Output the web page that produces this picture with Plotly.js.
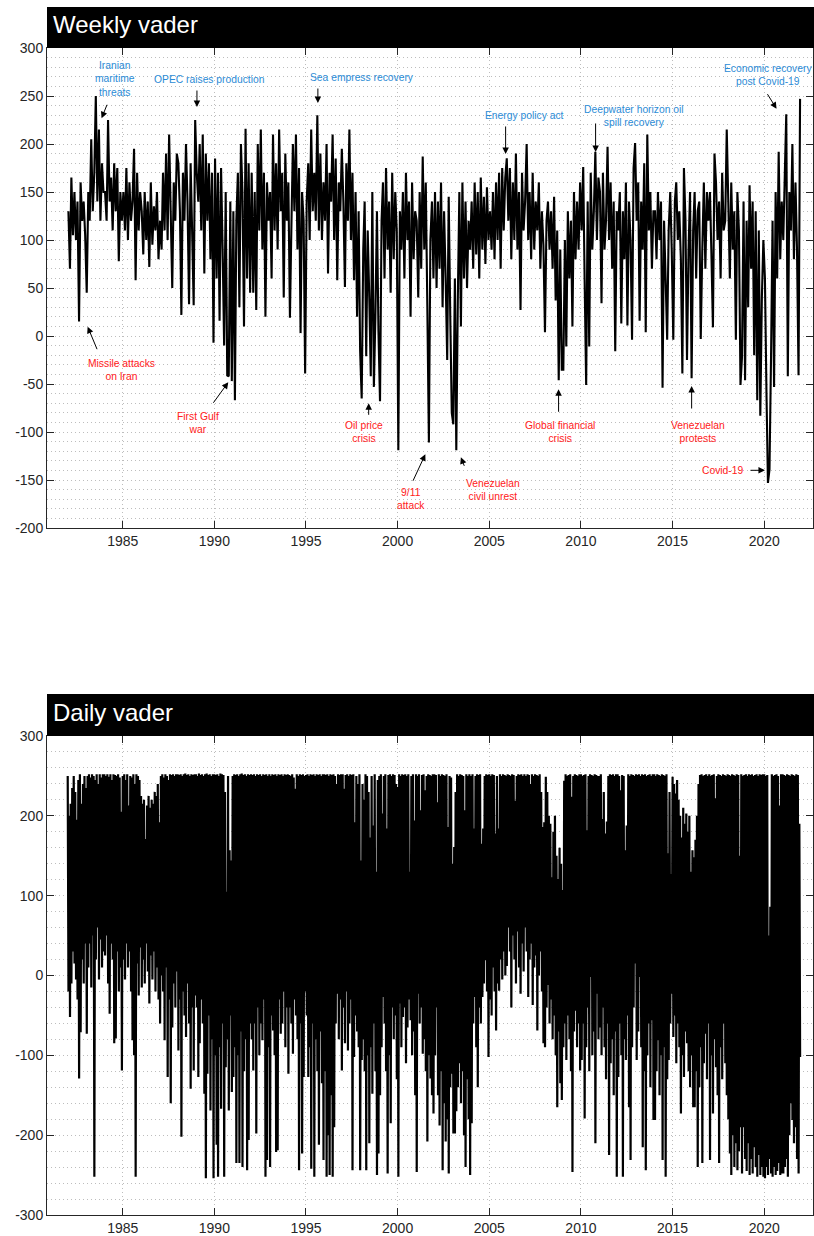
<!DOCTYPE html>
<html>
<head>
<meta charset="utf-8">
<script src="https://cdn.plot.ly/plotly-3.0.1.min.js"></script>
<style>
  html, body { margin: 0; padding: 0; background: #ffffff; }
  #chart { width: 814px; height: 1236px; }
</style>
</head>
<body>
<div id="chart"></div>
<script>
// Sentiment series start in January 1982, one row per year (Jan..Dec).
const START_YEAR = 1982;

// Weekly VADER sentiment index, sampled once per month.
const weeklyVader = [
  130, 70, 165, 105, 150, 100, 140, 15, 160, 120, 140, 105,
  45, 150, 120, 205, 130, 170, 250, 140, 215, 120, 180, 150,
  150, 120, 225, 140, 165, 110, 180, 130, 175, 78, 150, 120,
  150, 110, 175, 100, 160, 120, 140, 195, 58, 170, 110, 150,
  130, 85, 150, 100, 140, 72, 160, 95, 135, 110, 150, 80,
  120, 90, 170, 110, 190, 100, 210, 130, 50, 160, 120, 190,
  180, 130, 22, 170, 120, 200, 140, 33, 180, 110, 32, 225,
  170, 140, 200, 110, 210, 65, 190, 120, 180, 80, 170, -7,
  185, 60, 170, 16, 175, 90, -10, 150, -41, -42, 140, -47,
  130, -67, 120, 170, 30, 200, 150, 10, 216, 60, 180, 45,
  170, 45, 150, 27, 200, 110, 215, 90, 170, 20, 160, 120,
  150, 60, 210, 110, 180, 90, 215, 130, 170, 40, 190, 120,
  160, 19, 110, 200, 130, 210, 90, 175, 3, 150, 120, -39,
  140, 180, 100, 215, 130, 170, 120, 230, 110, 190, 100, 160,
  120, 200, 65, 170, 140, 210, 100, 185, 58, 160, 130, 195,
  140, 51, 180, 120, 215, 100, 170, 58, 150, 20, 130, -15,
  -65, 90, 140, -21, 110, 40, -42, 150, -53, 20, 130, 5,
  -68, 120, 160, 60, 175, 90, 140, 45, 170, 80, 150, 110,
  -119, 130, 90, 150, 60, 170, 100, 140, 20, 160, 80, 130,
  120, 40, 150, 70, 187, 90, 160, 30, -111, 100, 140, 60,
  150, 50, 140, 70, 160, 30, 130, 60, -25, 145, 20, -80,
  -92, 60, -119, 40, 150, 10, 160, 60, 140, 50, 120, 90,
  140, 70, 160, 85, 150, 60, 165, 90, 145, 75, 155, 100,
  130, 90, 150, 80, 160, 100, 170, 70, 175, 110, 165, 185,
  120, 175, 80, 160, 100, 190, 90, 150, 27, 170, 110, 140,
  200, 100, 150, 80, 170, 90, 140, 110, 160, 70, 130, 95,
  4, 120, 140, 90, 130, 70, 145, 37, 110, -46, 90, -35,
  -35, 100, -11, 130, 60, 120, 10, 150, 80, 140, 90, 160,
  110, 176, 60, -51, 140, -11, 170, 90, 130, 192, 100, 165,
  150, 34, 170, 90, 120, 197, 100, 160, 70, 140, -16, 130,
  110, 150, 13, 130, 80, 160, 11, 140, 100, -4, 175, 201,
  120, 160, 16, 140, 90, 180, 4, 210, 110, 150, 70, 130,
  130, 80, 150, 100, 140, -54, 120, 60, -4, 110, 150, 90,
  -4, 140, 160, 100, 130, 80, -39, 175, 120, -25, 90, 150,
  -44, 110, 150, 60, 130, 140, -3, 90, 160, 70, 150, 120,
  150, 80, 9, 190, 160, 100, 140, 60, 170, 110, 120, 215,
  140, 60, 160, 90, 130, -4, 150, 110, -51, -22, 140, -46,
  120, 30, 157, 70, 140, -20, 130, -67, 110, -83, 40, 100,
  60, -60, -153, -139, -25, 120, -53, 150, 60, 192, 80, 140,
  100, 170, 231, -42, 150, 110, 200, 80, 160, 90, -41, 247
];

// Daily VADER sentiment: highest and lowest daily reading in each month.
const dailyHigh = [
  250, 200, 215, 235, 250, 230, 195, 245, 252, 215, 240, 250,
  235, 250, 252, 248, 252, 250, 245, 252, 240, 252, 248, 252,
  252, 250, 252, 249, 252, 245, 252, 251, 250, 252, 248, 205,
  250, 252, 245, 252, 213, 250, 248, 252, 240, 252, 250, 245,
  225, 215, 220, 171, 213, 225, 210, 220, 215, 230, 225, 240,
  192, 250, 252, 248, 252, 250, 245, 252, 251, 252, 250, 252,
  252, 251, 252, 250, 252, 253, 251, 252, 250, 252, 251, 252,
  252, 250, 253, 251, 252, 250, 252, 253, 251, 252, 250, 252,
  252, 251, 252, 250, 253, 252, 251, 230, 105, 250, 157, 144,
  250, 252, 251, 252, 250, 252, 253, 251, 252, 250, 252, 251,
  252, 251, 252, 250, 252, 251, 252, 250, 252, 251, 252, 250,
  252, 250, 252, 251, 252, 250, 252, 251, 252, 250, 252, 251,
  252, 251, 250, 252, 248, 234, 252, 250, 252, 251, 252, 250,
  251, 252, 250, 252, 251, 252, 250, 252, 251, 252, 250, 252,
  252, 251, 252, 250, 252, 251, 252, 250, 240, 252, 251, 252,
  252, 234, 251, 252, 250, 252, 251, 252, 192, 250, 240, 252,
  144, 240, 220, 252, 250, 230, 173, 250, 188, 252, 130, 245,
  250, 252, 203, 250, 252, 184, 251, 252, 250, 252, 251, 240,
  236, 252, 250, 252, 251, 252, 250, 252, 130, 250, 252, 194,
  252, 250, 252, 207, 251, 252, 232, 250, 252, 251, 250, 252,
  252, 251, 217, 252, 250, 252, 251, 250, 252, 186, 250, 248,
  140, 161, 230, 252, 250, 252, 251, 250, 207, 252, 250, 252,
  250, 252, 184, 250, 252, 251, 252, 165, 184, 250, 252, 251,
  252, 250, 252, 251, 178, 250, 184, 252, 250, 252, 251, 250,
  252, 251, 250, 252, 251, 219, 250, 252, 251, 252, 250, 252,
  250, 252, 251, 240, 252, 250, 252, 251, 250, 252, 230, 186,
  192, 249, 230, 200, 190, 123, 180, 200, 150, 121, 160, 140,
  107, 244, 252, 250, 251, 252, 224, 250, 252, 251, 250, 252,
  252, 250, 251, 252, 182, 250, 252, 251, 250, 252, 251, 250,
  250, 252, 196, 230, 178, 193, 250, 252, 251, 252, 250, 252,
  252, 250, 232, 251, 250, 157, 188, 252, 250, 252, 251, 250,
  252, 251, 252, 250, 252, 251, 252, 250, 251, 252, 250, 252,
  252, 250, 252, 251, 250, 252, 251, 250, 252, 153, 230, 127,
  249, 240, 228, 245, 220, 200, 173, 210, 190, 203, 180, 200,
  130, 157, 148, 170, 200, 240, 251, 252, 250, 251, 252, 250,
  252, 250, 251, 252, 222, 250, 252, 251, 250, 252, 251, 250,
  252, 251, 250, 252, 251, 250, 252, 251, 150, 252, 250, 251,
  252, 250, 252, 251, 252, 250, 251, 252, 250, 252, 251, 252,
  252, 250, 251, 50, 86, 252, 250, 251, 252, 250, 213, 252,
  252, 251, 250, 252, 251, 250, 252, 251, 250, 252, 251, 190
];

const dailyLow = [
  -20, -52, -10, 30, 15, -5, -30, -129, -71, 20, -10, 40,
  -73, 10, 40, -15, 50, -252, 20, 60, -5, 45, 10, 30,
  25, 50, -10, -48, 40, 20, -85, -79, 30, -20, 10, -119,
  20, -5, 40, 10, 30, -20, -81, -100, -252, 15, -25, 35,
  -15, 20, -10, 40, 5, -35, 25, -5, 30, -20, 10, -30,
  -60, 0, -20, -81, 10, -127, -30, -160, -65, -10, -40, 5,
  -94, -30, -202, -20, -50, -77, -10, -60, -142, -40, -119, -25,
  -40, -127, -85, -30, -60, -148, -254, -123, -50, -169, -80, -254,
  -100, -212, -252, -90, -167, -60, -252, -115, -80, -169, -50, -146,
  -127, -90, -235, -100, -235, -70, -240, -120, -80, -244, -206, -60,
  -80, -119, -60, -198, -40, -100, -60, -81, -30, -252, -231, -90,
  -240, -50, -69, -100, -221, -219, -30, -73, -60, -20, -90, -40,
  -123, -40, -60, -98, -30, -50, -80, -244, -60, -223, -127, -20,
  -50, -127, -90, -242, -60, -252, -80, -120, -212, -70, -135, -231,
  -120, -252, -200, -250, -150, -252, -190, -60, -23, -80, -30, -119,
  -40, -85, -20, -94, -60, -30, -244, -102, -50, -70, -90, -244,
  -106, -80, -120, -244, -100, -210, -90, -148, -60, -120, -250, -223,
  -150, -90, -27, -60, -120, -248, -100, -185, -40, -80, -50, -130,
  -252, -35, -90, -52, -40, -110, -65, -30, -56, -100, -70, -150,
  -246, -23, -60, -40, -98, -80, -120, -208, -100, -129, -150, -173,
  -100, -40, -150, -188, -120, -244, -160, -208, -180, -248, -140, -123,
  -198, -198, -170, -140, -110, -160, -120, -200, -240, -130, -180, -250,
  -185, -60, -27, -90, -140, -40, -60, -27, -10, 19, -20, -102,
  -30, -50, 10, -20, -69, -10, -19, 20, -5, 30, 0, 12,
  60, 30, -40, 50, 20, -10, 55, 10, -23, 40, 5, 60,
  30, -27, 20, 40, -37, 10, 25, -69, 0, 30, -20, -85,
  -90, -40, -12, -60, -30, -80, -50, -100, -165, -70, -135, -156,
  -90, -60, -106, -50, -80, -120, -246, -70, -44, -90, -60, -119,
  -106, -60, -179, -90, -40, -120, -2, -100, -70, -210, -23, -80,
  -65, -100, -40, -90, -130, -60, -225, -110, -80, -150, -70, -252,
  -127, -60, -100, -252, -80, -106, -50, -165, -231, -90, -40, 15,
  -106, -70, -2, -90, -215, -120, -244, -100, -60, -140, -56, -181,
  -181, -120, -81, -150, -100, -231, -90, -252, -130, -106, -60, -23,
  -77, -50, -110, -60, -90, -173, -100, -127, -70, -85, -120, -140,
  -100, -165, -165, -120, -240, -140, -90, -235, -110, -73, -130, -60,
  -231, -100, -173, -80, -115, -150, -235, -90, -130, -60, -110, -150,
  -180, -223, -250, -200, -240, -210, -244, -220, -190, -248, -190, -230,
  -245, -210, -250, -230, -248, -215, -240, -252, -225, -250, -240, -252,
  -254, -240, -250, -230, -248, -252, -240, -250, -245, -235, -250, -248,
  -248, -240, -230, -252, -200, -160, -181, -210, -190, -230, -248, -102
];

// Axis ticks
const yearTicks = [1985, 1990, 1995, 2000, 2005, 2010, 2015, 2020];
const weeklyYTicks = [-200, -150, -100, -50, 0, 50, 100, 150, 200, 250, 300];
const dailyYTicks = [-300, -200, -100, 0, 100, 200, 300];

// Event labels on the weekly panel
const positiveEvents = [
  'Iranian<br>maritime<br>threats',
  'OPEC raises production',
  'Sea empress recovery',
  'Energy policy act',
  'Deepwater horizon oil<br>spill recovery',
  'Economic recovery<br>post Covid-19'
];
const negativeEvents = [
  'Missile attacks<br>on Iran',
  'First Gulf<br>war',
  'Oil price<br>crisis',
  '9/11<br>attack',
  'Venezuelan<br>civil unrest',
  'Global financial<br>crisis',
  'Venezuelan<br>protests',
  'Covid-19'
];

// ---------- helpers ----------
const W = 814, H = 1236;
const pad2 = n => String(n).padStart(2, '0');
function monthDate(i, day) {
  const y = START_YEAR + Math.floor(i / 12);
  return y + '-' + pad2(i % 12 + 1) + '-' + pad2(day);
}
function yearToDate(t) {
  const y = Math.floor(t);
  const a = Date.UTC(y, 0, 1), b = Date.UTC(y + 1, 0, 1);
  return new Date(a + (t - y) * (b - a)).toISOString().replace('T', ' ').slice(0, 19);
}
const py = p => 1 - p / H; // pixel row -> paper fraction

// ---------- traces ----------
const weeklyX = weeklyVader.map((_, i) => monthDate(i, 15));

const dailyX = [], dailyY = [];
dailyHigh.forEach((hi, i) => {
  dailyX.push(monthDate(i, 1));  dailyY.push(hi);
  dailyX.push(monthDate(i, 16)); dailyY.push(dailyLow[i]);
});

const traces = [
  { type: 'scatter', mode: 'lines', x: weeklyX, y: weeklyVader, xaxis: 'x', yaxis: 'y',
    line: { color: '#000000', width: 2.1, simplify: false }, hoverinfo: 'skip' },
  { type: 'scatter', mode: 'lines', x: dailyX, y: dailyY, xaxis: 'x2', yaxis: 'y2',
    line: { color: '#000000', width: 2.2, simplify: false }, hoverinfo: 'skip' }
];

// ---------- axes ----------
const ink = '#262626';
const grid = '#bdbdbd';
const tickFont = { family: 'Liberation Sans, Arial, sans-serif', size: 14, color: ink };

function xAxis(anchor) {
  return {
    anchor: anchor, domain: [0, 1], type: 'date',
    range: [yearToDate(1980.87), yearToDate(2022.66)],
    tickmode: 'array',
    tickvals: yearTicks.map(y => y + '-01-01'),
    ticktext: yearTicks.map(String),
    ticks: 'inside', ticklen: 7, tickcolor: ink, tickwidth: 1,
    showline: true, linecolor: ink, linewidth: 1, mirror: 'allticks',
    showgrid: true, gridcolor: grid, griddash: '1px,3px', gridwidth: 1,
    zeroline: false, tickfont: tickFont, fixedrange: true
  };
}
function yAxis(anchor, domain, range, ticks, minorStep) {
  return {
    anchor: anchor, domain: domain, range: range,
    tickmode: 'array', tickvals: ticks, ticktext: ticks.map(String),
    ticks: 'inside', ticklen: 7, tickcolor: ink, tickwidth: 1,
    showline: true, linecolor: ink, linewidth: 1, mirror: 'allticks',
    showgrid: true, gridcolor: grid, griddash: '1px,3px', gridwidth: 1,
    minor: { tick0: 0, dtick: minorStep, showgrid: true, gridcolor: grid,
             griddash: '1px,3px', gridwidth: 1, ticks: '' },
    zeroline: false, tickfont: tickFont, fixedrange: true
  };
}

// ---------- annotations ----------
const blue = '#2b8bd6';
const red = '#ff2020';
const labelFont = c => ({ family: 'Liberation Sans, Arial, sans-serif', size: 10.3, color: c });

// label anchor (decimal year, value) for each event
const positivePos = [
  [1984.58, 267.7], [1989.76, 267.2], [1998.04, 269], [2006.93, 229.5], [2012.91, 229.5], [2020.2, 271.5]
];
const negativePos = [
  [1984.95, -35.6], [1989.12, -90.3], [1998.15, -100], [2000.73, -170], [2005.18, -160.4],
  [2008.85, -100.2], [2016.4, -100.2], [2018.95, -139.9]
];
// arrow head (decimal year, value) and tail offset in pixels
const arrows = [
  [1983.85, 226.8, 6, -15], [1989.05, 238.5, 0, -18], [1995.65, 242.7, 0, -16],
  [2005.89, 189.6, 0, -29], [2010.8, 191.7, 0, -30], [2020.67, 236.8, -10, -16],
  [1983.09, 9.7, 10, 24], [1990.76, -48.2, -16, 22], [1998.42, -70.1, 0, 13],
  [2001.51, -123.2, -13, 28], [2003.45, -126.4, 4, 10], [2008.78, -55.5, 0, 24],
  [2016.04, -52.1, 0, 24], [2020.04, -139.9, -16, 0]
];

const annotations = [];
annotations.push({ xref: 'paper', yref: 'paper', x: 4 / 766, y: py(25), xanchor: 'left', yanchor: 'middle',
  text: 'Weekly vader', showarrow: false, font: { family: 'Liberation Sans, Arial, sans-serif', size: 24, color: '#ffffff' } });
annotations.push({ xref: 'paper', yref: 'paper', x: 4 / 766, y: py(712), xanchor: 'left', yanchor: 'middle',
  text: 'Daily vader', showarrow: false, font: { family: 'Liberation Sans, Arial, sans-serif', size: 24, color: '#ffffff' } });

positiveEvents.forEach((t, i) => annotations.push({
  xref: 'x', yref: 'y', x: yearToDate(positivePos[i][0]), y: positivePos[i][1],
  text: t, showarrow: false, xanchor: 'center', yanchor: 'middle', align: 'center', font: labelFont(blue)
}));
negativeEvents.forEach((t, i) => {
  const last = i === negativeEvents.length - 1;
  annotations.push({
    xref: 'x', yref: 'y', x: yearToDate(negativePos[i][0]), y: negativePos[i][1],
    text: t, showarrow: false, xanchor: last ? 'right' : 'center', yanchor: 'middle', align: 'center',
    font: labelFont(red)
  });
});
arrows.forEach(a => annotations.push({
  xref: 'x', yref: 'y', x: yearToDate(a[0]), y: a[1], text: '', showarrow: true,
  ax: a[2], ay: a[3], arrowhead: 2, arrowsize: 1.3, arrowwidth: 1, arrowcolor: '#000000', standoff: 0
}));

// ---------- layout ----------
const layout = {
  width: W, height: H,
  margin: { l: 47, r: 1, t: 0, b: 0, pad: 0 },
  paper_bgcolor: '#ffffff', plot_bgcolor: '#ffffff',
  showlegend: false,
  xaxis: xAxis('y'),
  yaxis: yAxis('x', [py(528), py(48)], [-200, 300], weeklyYTicks, 10),
  xaxis2: xAxis('y2'),
  yaxis2: yAxis('x2', [py(1215), py(736)], [-300, 300], dailyYTicks, 20),
  shapes: [
    { type: 'rect', xref: 'paper', yref: 'paper', x0: 0, x1: 1.01, y0: py(48), y1: py(7),
      fillcolor: '#000000', line: { width: 0 }, layer: 'above' },
    { type: 'rect', xref: 'paper', yref: 'paper', x0: 0, x1: 1.01, y0: py(736), y1: py(694),
      fillcolor: '#000000', line: { width: 0 }, layer: 'above' }
  ],
  annotations: annotations
};

Plotly.newPlot('chart', traces, layout, { displayModeBar: false, staticPlot: true });
</script>
</body>
</html>
